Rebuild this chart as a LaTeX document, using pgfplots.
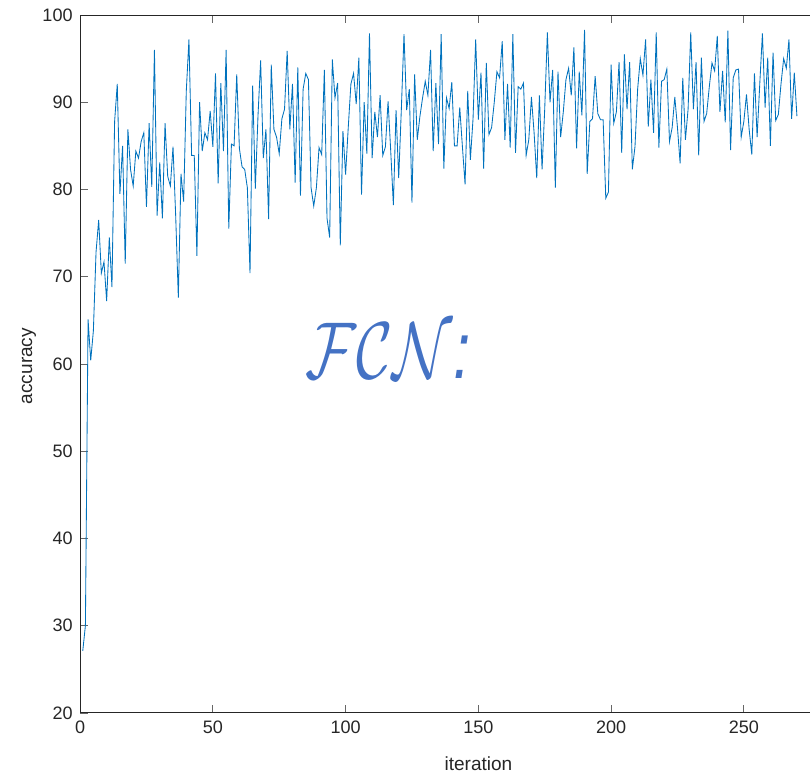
\documentclass[border=0pt]{standalone}
\usepackage{graphicx}
\usepackage{fontspec}
\setmainfont{Liberation Sans}
\usepackage{pgfplots}
\pgfplotsset{compat=1.18}
\definecolor{lineblue}{HTML}{0072BD}
\definecolor{fcnblue}{HTML}{4472C4}
\definecolor{axisgray}{HTML}{262626}

% accuracy per training iteration
\pgfplotstableread{
it acc
1 27.1
2 30.0
3 65.1
4 60.4
5 63.8
6 72.8
7 76.5
8 70.4
9 71.7
10 67.2
11 74.5
12 68.8
13 87.8
14 92.1
15 79.5
16 85.0
17 71.5
18 86.9
19 82.3
20 80.4
21 84.4
22 83.6
23 85.5
24 86.5
25 78.0
26 87.6
27 80.3
28 96.0
29 77.0
30 83.1
31 76.7
32 87.6
33 81.5
34 80.4
35 84.9
36 77.0
37 67.6
38 81.8
39 78.6
40 91.3
41 97.2
42 83.9
43 83.9
44 72.4
45 90.0
46 84.4
47 86.5
48 85.7
49 89.0
50 84.9
51 93.3
52 80.7
53 92.2
54 84.4
55 96.0
56 75.5
57 85.2
58 85.0
59 93.2
60 84.7
61 82.6
62 82.3
63 80.2
64 70.4
65 91.9
66 80.1
67 88.4
68 94.8
69 83.6
70 86.9
71 76.6
72 94.3
73 86.9
74 86.0
75 84.1
76 88.1
77 89.2
78 95.9
79 86.9
80 92.1
81 80.8
82 94.0
83 79.3
84 91.5
85 93.3
86 92.6
87 80.2
88 78.1
89 80.2
90 84.8
91 84.0
92 93.7
93 76.7
94 74.5
95 94.9
96 90.5
97 92.2
98 73.6
99 86.7
100 81.7
101 87.1
102 92.1
103 93.3
104 89.8
105 95.1
106 79.4
107 90.0
108 84.1
109 97.9
110 83.6
111 88.9
112 86.0
113 90.8
114 83.9
115 84.9
116 90.1
117 84.4
118 78.2
119 89.1
120 81.3
121 89.2
122 97.8
123 89.1
124 91.5
125 78.5
126 93.2
127 85.7
128 88.4
129 90.5
130 92.4
131 90.8
132 96.0
133 84.4
134 92.2
135 85.2
136 97.8
137 82.4
138 90.5
139 89.3
140 92.3
141 85.0
142 85.0
143 89.4
144 84.9
145 80.6
146 91.3
147 83.4
148 88.1
149 97.2
150 88.0
151 93.4
152 82.4
153 94.5
154 86.3
155 87.1
156 90.0
157 93.5
158 92.8
159 97.0
160 85.7
161 92.1
162 84.8
163 97.8
164 84.2
165 91.8
166 91.5
167 92.2
168 83.9
169 85.7
170 90.6
171 86.5
172 81.3
173 90.8
174 82.3
175 89.2
176 98.0
177 90.0
178 93.7
179 80.2
180 93.5
181 86.0
182 88.9
183 92.6
184 93.9
185 90.8
186 96.3
187 84.7
188 93.5
189 88.5
190 98.3
191 81.8
192 87.8
193 88.1
194 93.0
195 88.7
196 88.0
197 88.0
198 79.0
199 79.7
200 94.3
201 87.6
202 88.9
203 94.6
204 84.2
205 95.5
206 89.2
207 94.6
208 82.3
209 84.9
210 91.5
211 95.0
212 93.1
213 97.2
214 87.2
215 92.6
216 86.5
217 98.0
218 84.8
219 92.4
220 92.6
221 93.8
222 85.5
223 87.1
224 90.6
225 87.1
226 83.0
227 92.8
228 85.7
229 89.2
230 98.0
231 89.2
232 94.6
233 83.9
234 95.1
235 87.8
236 88.7
237 91.8
238 94.5
239 93.6
240 97.6
241 88.9
242 93.6
243 87.7
244 98.2
245 84.5
246 92.8
247 93.7
248 93.8
249 86.0
250 87.8
251 90.9
252 86.9
253 84.0
254 93.3
255 86.0
256 92.1
257 97.9
258 89.4
259 95.1
260 85.0
261 95.7
262 87.9
263 88.6
264 92.1
265 95.0
266 93.9
267 97.2
268 88.1
269 93.4
270 88.4
}\acctable

\begin{document}
\begin{tikzpicture}
\begin{axis}[
  scale only axis,
  width=730pt, height=697pt,
  xmin=0, xmax=275.3,
  ymin=20, ymax=100,
  xtick={0,50,...,250},
  ytick={20,30,...,100},
  xtick pos=both,
  ytick pos=left,
  tick align=inside,
  major tick length=8pt,
  tick style={color=black!60, line width=0.7pt},
  axis line style={color=axisgray, line width=0.9pt},
  /pgf/number format/assume math mode=true,
  ticklabel style={font=\fontsize{18}{20}\selectfont, text=axisgray},
  xticklabel style={yshift=-4pt},
  yticklabel style={xshift=-4pt},
  xlabel={iteration},
  ylabel={accuracy},
  label style={font=\fontsize{19}{22}\selectfont, text=axisgray},
  xlabel style={at={(axis description cs:0.545,-0.0832)}, anchor=base},
  ylabel style={at={(axis description cs:-0.0658,0.497)}, anchor=base},
]
\addplot[color=lineblue, line width=0.85pt, mark=none] table[x=it, y=acc] {\acctable};
\node[text=fcnblue, inner sep=0pt] at (axis cs:116,61.5)
  {\resizebox{165pt}{55pt}{$\mathcal{FCN}$\textit{:}}};
\coordinate (bl) at (rel axis cs:0,0);
\coordinate (tr) at (rel axis cs:1,1);
\end{axis}
\pgfresetboundingbox
\path[use as bounding box] ([shift={(-80pt,-62pt)}]bl) rectangle ([shift={(-1pt,15pt)}]tr);
\end{tikzpicture}
\end{document}
